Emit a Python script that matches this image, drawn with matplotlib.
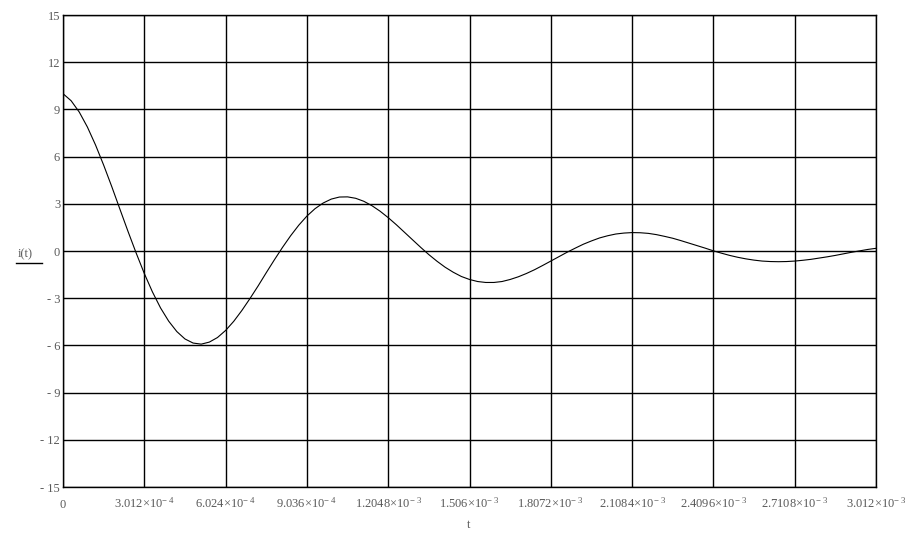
import numpy as np
import matplotlib.pyplot as plt
from matplotlib.lines import Line2D

plt.rcParams["font.family"] = ["Liberation Serif", "DejaVu Serif"]
plt.rcParams["mathtext.fontset"] = "custom"
plt.rcParams["mathtext.rm"] = "Liberation Serif"
plt.rcParams["mathtext.it"] = "Liberation Serif:italic"

step = 3.012e-4
# readings taken every 0.1 grid step along t
t = np.linspace(0, 10 * step, 101)
i_t = [
    10.00, 9.55, 8.83, 7.88, 6.74, 5.46, 4.09, 2.66, 1.24, -0.13,
    -1.43, -2.60, -3.62, -4.46, -5.12, -5.59, -5.85, -5.92, -5.79, -5.50,
    -5.05, -4.47, -3.78, -3.02, -2.22, -1.38, -0.56, 0.23, 0.97, 1.64,
    2.22, 2.69, 3.05, 3.30, 3.43, 3.44, 3.35, 3.16, 2.88, 2.53,
    2.12, 1.67, 1.19, 0.71, 0.23, -0.23, -0.65, -1.03, -1.35, -1.62,
    -1.81, -1.94, -2.00, -2.00, -1.94, -1.81, -1.64, -1.43, -1.19, -0.92,
    -0.64, -0.36, -0.08, 0.18, 0.43, 0.64, 0.83, 0.97, 1.08, 1.14,
    1.17, 1.16, 1.12, 1.04, 0.93, 0.81, 0.66, 0.50, 0.34, 0.18,
    0.01, -0.14, -0.28, -0.40, -0.50, -0.58, -0.64, -0.67, -0.68, -0.67,
    -0.64, -0.59, -0.53, -0.45, -0.37, -0.28, -0.18, -0.08, 0.01, 0.10,
    0.17,
]

y_ticks = [-15, -12, -9, -6, -3, 0, 3, 6, 9, 12, 15]
y_labels = ["- 15", "- 12", "- 9", "- 6", "- 3", "0", "3", "6", "9", "12", "15"]

x_ticks = [0, 3.012e-4, 6.024e-4, 9.036e-4, 1.2048e-3, 1.506e-3,
           1.8072e-3, 2.1084e-3, 2.4096e-3, 2.7108e-3, 3.012e-3]
x_mant = ["0", "3.012", "6.024", "9.036", "1.2048", "1.506",
          "1.8072", "2.1084", "2.4096", "2.7108", "3.012"]
x_exp = ["", "4", "4", "4", "3", "3", "3", "3", "3", "3", "3"]

gray = "#5a5a5a"
fs = 9
W, H = 923, 533

fig = plt.figure(figsize=(W / 100, H / 100), dpi=100)
ax = fig.add_axes([63 / W, 1 - 487 / H, (876 - 63) / W, (487 - 15) / H])
ax.set_axisbelow(True)
ax.plot(t, i_t, color="black", lw=0.8)

ax.set_xlim(0, 3.012e-3)
ax.set_ylim(-15, 15)
ax.set_xticks(x_ticks)
ax.set_yticks(y_ticks)
ax.set_yticklabels(y_labels)
ax.set_xticklabels([])
ax.grid(True, color="black", lw=1.0)
ax.tick_params(length=0, labelsize=fs, labelcolor=gray, pad=2)
for s in ax.spines.values():
    s.set_color("black")
    s.set_linewidth(1.0)

for x, m, e in zip(x_ticks, x_mant, x_exp):
    lab = m if e == "" else m + "×10$^{-\\ " + e + "}$"
    ax.text(x, -0.0445, lab, transform=ax.get_xaxis_transform(),
            ha="center", va="baseline", fontsize=fs, color=gray)

fig.text(469 / W, 1 - 528 / H, "t", ha="center", va="baseline",
         fontsize=fs, color=gray)
fig.text(25 / W, 1 - 257 / H, "i(t)", ha="center", va="baseline",
         fontsize=fs, color=gray)
fig.add_artist(Line2D([16 / W, 42 / W], [1 - 263 / H, 1 - 263 / H],
                      color="black", lw=1.0))

fig.savefig("out.png", dpi=100)
